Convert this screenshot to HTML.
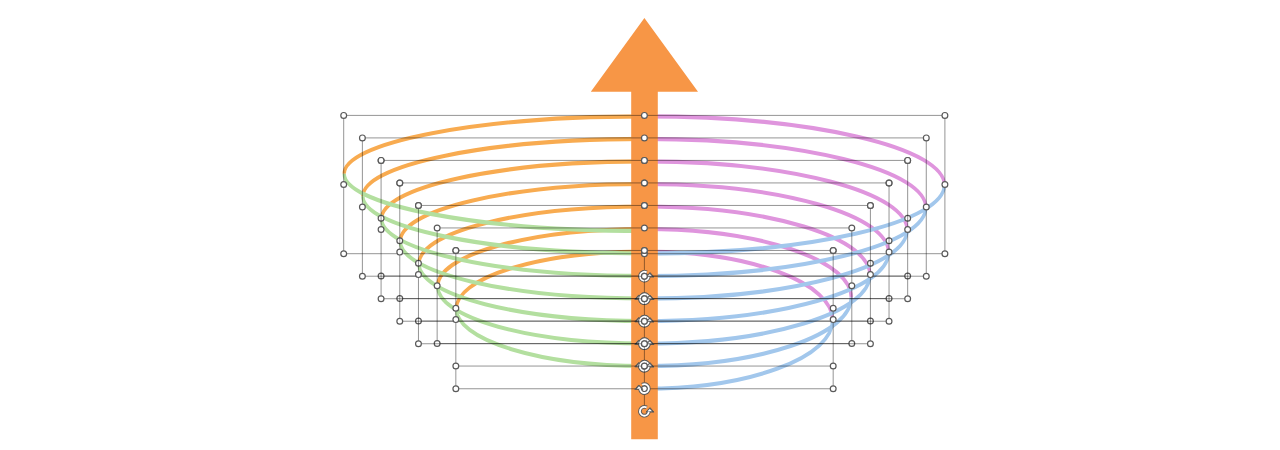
<!DOCTYPE html>
<html><head><meta charset="utf-8"><style>
html,body{margin:0;padding:0;background:#fff;width:1280px;height:450px;overflow:hidden;font-family:"Liberation Sans",sans-serif;}
svg{display:block}
</style></head><body>
<svg width="1280" height="450" viewBox="0 0 1280 450">
<g fill="none" stroke-width="4.1" transform="scale(0.83,1)"><path d="M414.70,173.65 A361.69,57.25 0 0 1 776.39,116.40" stroke="#F8AB50"/><path d="M776.39,116.40 A361.45,68.60 0 0 1 1137.83,185.00" stroke="#DF95DD"/><path d="M437.22,196.16 A339.17,57.25 0 0 1 776.39,138.91" stroke="#F8AB50"/><path d="M776.39,138.91 A339.01,68.60 0 0 1 1115.40,207.51" stroke="#DF95DD"/><path d="M459.73,218.67 A316.65,57.25 0 0 1 776.39,161.42" stroke="#F8AB50"/><path d="M776.39,161.42 A316.58,68.60 0 0 1 1092.96,230.02" stroke="#DF95DD"/><path d="M482.25,241.18 A294.13,57.25 0 0 1 776.39,183.93" stroke="#F8AB50"/><path d="M776.39,183.93 A294.14,68.60 0 0 1 1070.53,252.53" stroke="#DF95DD"/><path d="M504.77,263.69 A271.61,57.25 0 0 1 776.39,206.44" stroke="#F8AB50"/><path d="M776.39,206.44 A271.71,68.60 0 0 1 1048.10,275.04" stroke="#DF95DD"/><path d="M527.29,286.20 A249.10,57.25 0 0 1 776.39,228.95" stroke="#F8AB50"/><path d="M776.39,228.95 A249.28,68.60 0 0 1 1025.66,297.55" stroke="#DF95DD"/><path d="M549.81,308.71 A226.58,57.25 0 0 1 776.39,251.46" stroke="#F8AB50"/><path d="M776.39,251.46 A226.84,68.60 0 0 1 1003.23,320.06" stroke="#DF95DD"/><path d="M414.70,173.65 A361.69,57.25 0 0 0 776.39,230.90" stroke="#B3DF9F"/><path d="M1137.83,185.00 A361.45,68.60 0 0 1 776.39,253.60" stroke="#A2C7EC"/><path d="M437.22,196.16 A339.17,57.25 0 0 0 776.39,253.41" stroke="#B3DF9F"/><path d="M1115.40,207.51 A339.01,68.60 0 0 1 776.39,276.11" stroke="#A2C7EC"/><path d="M459.73,218.67 A316.65,57.25 0 0 0 776.39,275.92" stroke="#B3DF9F"/><path d="M1092.96,230.02 A316.58,68.60 0 0 1 776.39,298.62" stroke="#A2C7EC"/><path d="M482.25,241.18 A294.13,57.25 0 0 0 776.39,298.43" stroke="#B3DF9F"/><path d="M1070.53,252.53 A294.14,68.60 0 0 1 776.39,321.13" stroke="#A2C7EC"/><path d="M504.77,263.69 A271.61,57.25 0 0 0 776.39,320.94" stroke="#B3DF9F"/><path d="M1048.10,275.04 A271.71,68.60 0 0 1 776.39,343.64" stroke="#A2C7EC"/><path d="M527.29,286.20 A249.10,57.25 0 0 0 776.39,343.45" stroke="#B3DF9F"/><path d="M1025.66,297.55 A249.28,68.60 0 0 1 776.39,366.15" stroke="#A2C7EC"/><path d="M549.81,308.71 A226.58,57.25 0 0 0 776.39,365.96" stroke="#B3DF9F"/><path d="M1003.23,320.06 A226.84,68.60 0 0 1 776.39,388.66" stroke="#A2C7EC"/></g>
<path d="M644.4,18 L698,91.8 L657.8,91.8 L657.8,439.3 L631.2,439.3 L631.2,91.8 L590.8,91.8 Z" fill="#F79646"/>
<path d="M381.08,276.02H907.66" fill="none" stroke="#000" stroke-opacity="0.42" stroke-width="1"/><g transform="translate(644.40,0) scale(-1,1) translate(-644.40,0)"><path d="M646.62,294.67 A4.45,4.45 0 1 0 648.83,298.91" fill="none" stroke="#5A5A5A" stroke-width="3.7"/><path d="M646.00,299.32 L654.00,299.32 L650.00,294.92 Z" fill="#5A5A5A" stroke="#5A5A5A" stroke-width="1" stroke-linejoin="round"/><path d="M646.62,294.67 A4.45,4.45 0 1 0 648.83,298.91" fill="none" stroke="#fff" stroke-width="1.8"/><path d="M647.40,298.62 L652.00,298.62 L649.80,296.32 Z" fill="#fff"/></g><g fill="#fff" stroke="#5A5A5A" stroke-width="1.2"><circle cx="381.08" cy="160.42" r="2.9"/><circle cx="644.40" cy="160.42" r="2.9"/><circle cx="907.66" cy="160.42" r="2.9"/><circle cx="381.08" cy="218.22" r="2.9"/><circle cx="907.66" cy="218.22" r="2.9"/><circle cx="381.08" cy="276.02" r="2.9"/><circle cx="644.40" cy="276.02" r="2.9"/><circle cx="907.66" cy="276.02" r="2.9"/></g>
<path d="M399.77,298.53H889.04" fill="none" stroke="#000" stroke-opacity="0.42" stroke-width="1"/><g transform="translate(644.40,0) scale(-1,1) translate(-644.40,0)"><path d="M646.62,317.18 A4.45,4.45 0 1 0 648.83,321.42" fill="none" stroke="#5A5A5A" stroke-width="3.7"/><path d="M646.00,321.83 L654.00,321.83 L650.00,317.43 Z" fill="#5A5A5A" stroke="#5A5A5A" stroke-width="1" stroke-linejoin="round"/><path d="M646.62,317.18 A4.45,4.45 0 1 0 648.83,321.42" fill="none" stroke="#fff" stroke-width="1.8"/><path d="M647.40,321.13 L652.00,321.13 L649.80,318.83 Z" fill="#fff"/></g><g fill="#fff" stroke="#5A5A5A" stroke-width="1.2"><circle cx="399.77" cy="182.93" r="2.9"/><circle cx="644.40" cy="182.93" r="2.9"/><circle cx="889.04" cy="182.93" r="2.9"/><circle cx="399.77" cy="240.73" r="2.9"/><circle cx="889.04" cy="240.73" r="2.9"/><circle cx="399.77" cy="298.53" r="2.9"/><circle cx="644.40" cy="298.53" r="2.9"/><circle cx="889.04" cy="298.53" r="2.9"/></g>
<path d="M418.46,321.04H870.42" fill="none" stroke="#000" stroke-opacity="0.42" stroke-width="1"/><g transform="translate(644.40,0) scale(-1,1) translate(-644.40,0)"><path d="M646.62,339.69 A4.45,4.45 0 1 0 648.83,343.93" fill="none" stroke="#5A5A5A" stroke-width="3.7"/><path d="M646.00,344.34 L654.00,344.34 L650.00,339.94 Z" fill="#5A5A5A" stroke="#5A5A5A" stroke-width="1" stroke-linejoin="round"/><path d="M646.62,339.69 A4.45,4.45 0 1 0 648.83,343.93" fill="none" stroke="#fff" stroke-width="1.8"/><path d="M647.40,343.64 L652.00,343.64 L649.80,341.34 Z" fill="#fff"/></g><g fill="#fff" stroke="#5A5A5A" stroke-width="1.2"><circle cx="418.46" cy="205.44" r="2.9"/><circle cx="644.40" cy="205.44" r="2.9"/><circle cx="870.42" cy="205.44" r="2.9"/><circle cx="418.46" cy="263.24" r="2.9"/><circle cx="870.42" cy="263.24" r="2.9"/><circle cx="418.46" cy="321.04" r="2.9"/><circle cx="644.40" cy="321.04" r="2.9"/><circle cx="870.42" cy="321.04" r="2.9"/></g>
<path d="M437.15,227.95H851.80V343.55H437.15Z" fill="none" stroke="#000" stroke-opacity="0.42" stroke-width="1"/><g transform="translate(644.40,0) scale(-1,1) translate(-644.40,0)"><path d="M646.62,362.20 A4.45,4.45 0 1 0 648.83,366.44" fill="none" stroke="#5A5A5A" stroke-width="3.7"/><path d="M646.00,366.85 L654.00,366.85 L650.00,362.45 Z" fill="#5A5A5A" stroke="#5A5A5A" stroke-width="1" stroke-linejoin="round"/><path d="M646.62,362.20 A4.45,4.45 0 1 0 648.83,366.44" fill="none" stroke="#fff" stroke-width="1.8"/><path d="M647.40,366.15 L652.00,366.15 L649.80,363.85 Z" fill="#fff"/></g><g fill="#fff" stroke="#5A5A5A" stroke-width="1.2"><circle cx="437.15" cy="227.95" r="2.9"/><circle cx="644.40" cy="227.95" r="2.9"/><circle cx="851.80" cy="227.95" r="2.9"/><circle cx="437.15" cy="285.75" r="2.9"/><circle cx="851.80" cy="285.75" r="2.9"/><circle cx="437.15" cy="343.55" r="2.9"/><circle cx="644.40" cy="343.55" r="2.9"/><circle cx="851.80" cy="343.55" r="2.9"/></g>
<path d="M343.70,115.40H944.90V253.70H343.70Z" fill="none" stroke="#000" stroke-opacity="0.42" stroke-width="1"/><path d="M644.40,257.20V270.00" fill="none" stroke="#000" stroke-opacity="0.42" stroke-width="1"/><g transform="translate(644.40,0) scale(1,1) translate(-644.40,0)"><path d="M646.62,272.35 A4.45,4.45 0 1 0 648.83,276.59" fill="none" stroke="#5A5A5A" stroke-width="3.7"/><path d="M646.00,277.00 L654.00,277.00 L650.00,272.60 Z" fill="#5A5A5A" stroke="#5A5A5A" stroke-width="1" stroke-linejoin="round"/><path d="M646.62,272.35 A4.45,4.45 0 1 0 648.83,276.59" fill="none" stroke="#fff" stroke-width="1.8"/><path d="M647.40,276.30 L652.00,276.30 L649.80,274.00 Z" fill="#fff"/></g><g fill="#fff" stroke="#5A5A5A" stroke-width="1.2"><circle cx="343.70" cy="115.40" r="2.9"/><circle cx="644.40" cy="115.40" r="2.9"/><circle cx="944.90" cy="115.40" r="2.9"/><circle cx="343.70" cy="184.55" r="2.9"/><circle cx="944.90" cy="184.55" r="2.9"/><circle cx="343.70" cy="253.70" r="2.9"/><circle cx="644.40" cy="253.70" r="2.9"/><circle cx="944.90" cy="253.70" r="2.9"/></g>
<path d="M362.39,137.91H926.28V276.21H362.39Z" fill="none" stroke="#000" stroke-opacity="0.42" stroke-width="1"/><path d="M644.40,279.71V292.51" fill="none" stroke="#000" stroke-opacity="0.42" stroke-width="1"/><g transform="translate(644.40,0) scale(1,1) translate(-644.40,0)"><path d="M646.62,294.86 A4.45,4.45 0 1 0 648.83,299.10" fill="none" stroke="#5A5A5A" stroke-width="3.7"/><path d="M646.00,299.51 L654.00,299.51 L650.00,295.11 Z" fill="#5A5A5A" stroke="#5A5A5A" stroke-width="1" stroke-linejoin="round"/><path d="M646.62,294.86 A4.45,4.45 0 1 0 648.83,299.10" fill="none" stroke="#fff" stroke-width="1.8"/><path d="M647.40,298.81 L652.00,298.81 L649.80,296.51 Z" fill="#fff"/></g><g fill="#fff" stroke="#5A5A5A" stroke-width="1.2"><circle cx="362.39" cy="137.91" r="2.9"/><circle cx="644.40" cy="137.91" r="2.9"/><circle cx="926.28" cy="137.91" r="2.9"/><circle cx="362.39" cy="207.06" r="2.9"/><circle cx="926.28" cy="207.06" r="2.9"/><circle cx="362.39" cy="276.21" r="2.9"/><circle cx="644.40" cy="276.21" r="2.9"/><circle cx="926.28" cy="276.21" r="2.9"/></g>
<path d="M381.08,160.42H907.66V298.72H381.08Z" fill="none" stroke="#000" stroke-opacity="0.42" stroke-width="1"/><path d="M644.40,302.22V315.02" fill="none" stroke="#000" stroke-opacity="0.42" stroke-width="1"/><g transform="translate(644.40,0) scale(1,1) translate(-644.40,0)"><path d="M646.62,317.37 A4.45,4.45 0 1 0 648.83,321.61" fill="none" stroke="#5A5A5A" stroke-width="3.7"/><path d="M646.00,322.02 L654.00,322.02 L650.00,317.62 Z" fill="#5A5A5A" stroke="#5A5A5A" stroke-width="1" stroke-linejoin="round"/><path d="M646.62,317.37 A4.45,4.45 0 1 0 648.83,321.61" fill="none" stroke="#fff" stroke-width="1.8"/><path d="M647.40,321.32 L652.00,321.32 L649.80,319.02 Z" fill="#fff"/></g><g fill="#fff" stroke="#5A5A5A" stroke-width="1.2"><circle cx="381.08" cy="160.42" r="2.9"/><circle cx="644.40" cy="160.42" r="2.9"/><circle cx="907.66" cy="160.42" r="2.9"/><circle cx="381.08" cy="229.57" r="2.9"/><circle cx="907.66" cy="229.57" r="2.9"/><circle cx="381.08" cy="298.72" r="2.9"/><circle cx="644.40" cy="298.72" r="2.9"/><circle cx="907.66" cy="298.72" r="2.9"/></g>
<path d="M399.77,182.93H889.04V321.23H399.77Z" fill="none" stroke="#000" stroke-opacity="0.42" stroke-width="1"/><path d="M644.40,324.73V337.53" fill="none" stroke="#000" stroke-opacity="0.42" stroke-width="1"/><g transform="translate(644.40,0) scale(1,1) translate(-644.40,0)"><path d="M646.62,339.88 A4.45,4.45 0 1 0 648.83,344.12" fill="none" stroke="#5A5A5A" stroke-width="3.7"/><path d="M646.00,344.53 L654.00,344.53 L650.00,340.13 Z" fill="#5A5A5A" stroke="#5A5A5A" stroke-width="1" stroke-linejoin="round"/><path d="M646.62,339.88 A4.45,4.45 0 1 0 648.83,344.12" fill="none" stroke="#fff" stroke-width="1.8"/><path d="M647.40,343.83 L652.00,343.83 L649.80,341.53 Z" fill="#fff"/></g><g fill="#fff" stroke="#5A5A5A" stroke-width="1.2"><circle cx="399.77" cy="182.93" r="2.9"/><circle cx="644.40" cy="182.93" r="2.9"/><circle cx="889.04" cy="182.93" r="2.9"/><circle cx="399.77" cy="252.08" r="2.9"/><circle cx="889.04" cy="252.08" r="2.9"/><circle cx="399.77" cy="321.23" r="2.9"/><circle cx="644.40" cy="321.23" r="2.9"/><circle cx="889.04" cy="321.23" r="2.9"/></g>
<path d="M418.46,205.44H870.42V343.74H418.46Z" fill="none" stroke="#000" stroke-opacity="0.42" stroke-width="1"/><path d="M644.40,347.24V360.04" fill="none" stroke="#000" stroke-opacity="0.42" stroke-width="1"/><g transform="translate(644.40,0) scale(1,1) translate(-644.40,0)"><path d="M646.62,362.39 A4.45,4.45 0 1 0 648.83,366.63" fill="none" stroke="#5A5A5A" stroke-width="3.7"/><path d="M646.00,367.04 L654.00,367.04 L650.00,362.64 Z" fill="#5A5A5A" stroke="#5A5A5A" stroke-width="1" stroke-linejoin="round"/><path d="M646.62,362.39 A4.45,4.45 0 1 0 648.83,366.63" fill="none" stroke="#fff" stroke-width="1.8"/><path d="M647.40,366.34 L652.00,366.34 L649.80,364.04 Z" fill="#fff"/></g><g fill="#fff" stroke="#5A5A5A" stroke-width="1.2"><circle cx="418.46" cy="205.44" r="2.9"/><circle cx="644.40" cy="205.44" r="2.9"/><circle cx="870.42" cy="205.44" r="2.9"/><circle cx="418.46" cy="274.59" r="2.9"/><circle cx="870.42" cy="274.59" r="2.9"/><circle cx="418.46" cy="343.74" r="2.9"/><circle cx="644.40" cy="343.74" r="2.9"/><circle cx="870.42" cy="343.74" r="2.9"/></g>
<path d="M455.84,250.46H833.18V388.76H455.84Z" fill="none" stroke="#000" stroke-opacity="0.42" stroke-width="1"/><path d="M644.40,392.26V405.06" fill="none" stroke="#000" stroke-opacity="0.42" stroke-width="1"/><g transform="translate(644.40,0) scale(1,1) translate(-644.40,0)"><path d="M646.62,407.41 A4.45,4.45 0 1 0 648.83,411.65" fill="none" stroke="#5A5A5A" stroke-width="3.7"/><path d="M646.00,412.06 L654.00,412.06 L650.00,407.66 Z" fill="#5A5A5A" stroke="#5A5A5A" stroke-width="1" stroke-linejoin="round"/><path d="M646.62,407.41 A4.45,4.45 0 1 0 648.83,411.65" fill="none" stroke="#fff" stroke-width="1.8"/><path d="M647.40,411.36 L652.00,411.36 L649.80,409.06 Z" fill="#fff"/></g><g fill="#fff" stroke="#5A5A5A" stroke-width="1.2"><circle cx="455.84" cy="250.46" r="2.9"/><circle cx="644.40" cy="250.46" r="2.9"/><circle cx="833.18" cy="250.46" r="2.9"/><circle cx="455.84" cy="319.61" r="2.9"/><circle cx="833.18" cy="319.61" r="2.9"/><circle cx="455.84" cy="388.76" r="2.9"/><circle cx="644.40" cy="388.76" r="2.9"/><circle cx="833.18" cy="388.76" r="2.9"/></g>
<path d="M455.84,366.06H833.18" fill="none" stroke="#000" stroke-opacity="0.42" stroke-width="1"/><path d="M644.40,369.56V382.36" fill="none" stroke="#000" stroke-opacity="0.42" stroke-width="1"/><g transform="translate(644.40,0) scale(-1,1) translate(-644.40,0)"><path d="M646.62,384.71 A4.45,4.45 0 1 0 648.83,388.95" fill="none" stroke="#5A5A5A" stroke-width="3.7"/><path d="M646.00,389.36 L654.00,389.36 L650.00,384.96 Z" fill="#5A5A5A" stroke="#5A5A5A" stroke-width="1" stroke-linejoin="round"/><path d="M646.62,384.71 A4.45,4.45 0 1 0 648.83,388.95" fill="none" stroke="#fff" stroke-width="1.8"/><path d="M647.40,388.66 L652.00,388.66 L649.80,386.36 Z" fill="#fff"/></g><g fill="#fff" stroke="#5A5A5A" stroke-width="1.2"><circle cx="455.84" cy="250.46" r="2.9"/><circle cx="644.40" cy="250.46" r="2.9"/><circle cx="833.18" cy="250.46" r="2.9"/><circle cx="455.84" cy="308.26" r="2.9"/><circle cx="833.18" cy="308.26" r="2.9"/><circle cx="455.84" cy="366.06" r="2.9"/><circle cx="644.40" cy="366.06" r="2.9"/><circle cx="833.18" cy="366.06" r="2.9"/></g>
</svg>
</body></html>
